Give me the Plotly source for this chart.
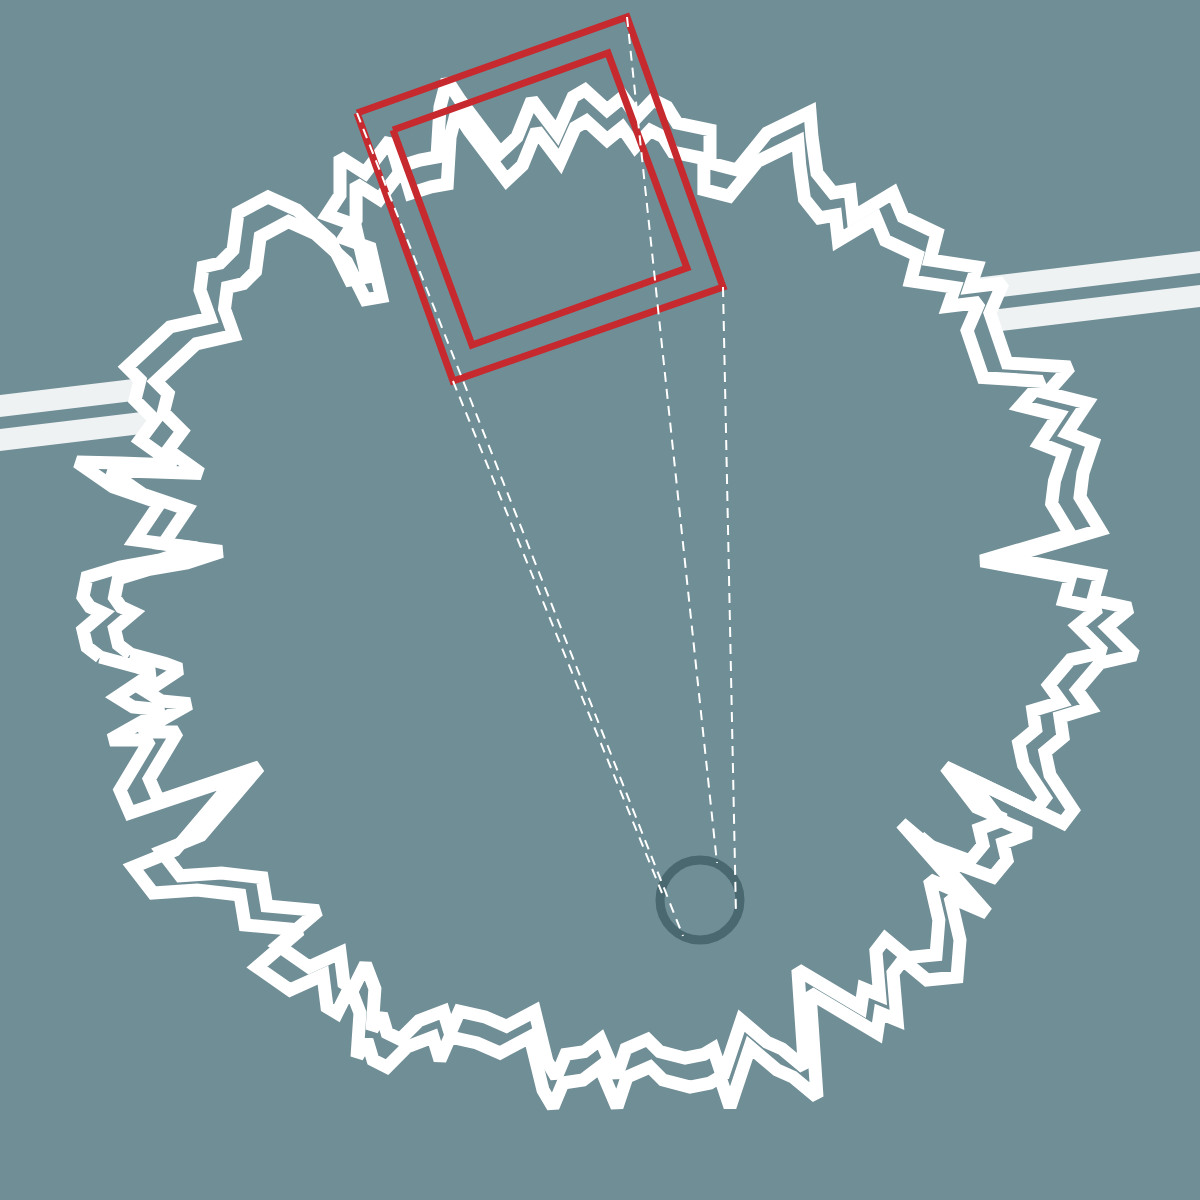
import plotly.graph_objects as go

# ---------------- data ----------------
# outer jagged ring (pixel coordinates, y downward)
ring_pts = [
    (100, 657), (87, 647), (83, 630), (103, 613), (90, 607), (83, 597), (87, 577), (120, 567), (160, 560),
    (197, 548), (135, 540), (160, 503), (113, 487), (77, 462), (120, 463), (175, 465), (140, 440), (155, 420),
    (135, 400), (140, 380), (127, 367), (150, 345), (170, 327), (210, 318), (200, 290), (203, 267), (220, 263),
    (233, 250), (238, 213), (268, 197), (297, 210), (330, 240), (350, 280), (367, 277), (355, 225), (327, 215),
    (340, 195), (340, 157), (365, 173), (390, 140), (398, 167), (420, 160), (437, 157), (440, 107), (447, 80),
    (460, 100), (500, 153), (517, 137), (532, 100), (557, 133), (573, 97), (585, 90), (607, 110), (623, 97),
    (637, 117), (653, 100), (667, 107), (677, 123), (710, 130), (710, 163), (737, 170), (767, 133), (810, 112),
    (812, 137), (817, 173), (833, 193), (850, 190), (853, 217), (893, 193), (903, 217), (937, 233), (930, 260),
    (977, 267), (970, 287), (1003, 283), (990, 313), (1007, 363), (1070, 367), (1047, 393), (1087, 403),
    (1067, 433), (1093, 443), (1083, 473), (1080, 497), (1100, 530), (1005, 558), (1100, 575), (1093, 600),
    (1130, 608), (1107, 627), (1135, 655), (1100, 663), (1077, 690), (1090, 708), (1060, 717), (1063, 737),
    (1045, 752), (1050, 775), (1073, 810), (1063, 823), (967, 777), (1000, 820), (1030, 833), (1003, 843),
    (1007, 860), (993, 877), (973, 870), (947, 860), (920, 837), (987, 913), (950, 897), (960, 940),
    (957, 977), (927, 980), (903, 960), (893, 973), (897, 1020), (880, 1013), (877, 1033), (810, 993),
    (817, 1097), (793, 1077), (777, 1070), (750, 1047), (730, 1107), (720, 1077), (710, 1083), (690, 1087),
    (663, 1080), (650, 1067), (627, 1077), (617, 1107), (600, 1067), (583, 1080), (563, 1083), (553, 1107),
    (543, 1090), (530, 1037), (500, 1053), (477, 1043), (450, 1037), (440, 1060), (433, 1037), (407, 1047),
    (387, 1067), (373, 1060), (367, 1040), (357, 1057), (360, 1013), (350, 987), (337, 1013), (327, 1007),
    (323, 975), (290, 990), (257, 967), (300, 930), (245, 925), (240, 895), (197, 890), (153, 893),
    (133, 867), (175, 850), (237, 777), (130, 813), (120, 790), (150, 740), (110, 740), (163, 710),
    (133, 707), (117, 697), (153, 673), (137, 667),
]
ring_x = [p[0] for p in ring_pts]
ring_y = [p[1] for p in ring_pts]

# second ring = scaled copy of the first
ring2_scale = 0.94
ring2_center = (608, 607)

# rotated squares (corners)
sq_outer_x = [357, 627, 723, 453]
sq_outer_y = [113, 17, 287, 381]
sq_inner_x = [393, 608, 687, 472]
sq_inner_y = [130, 53, 268, 345]

# dashed guide lines: start (square corner) -> end (on small circle)
guide_x0 = [627, 723, 357, 453]
guide_y0 = [17, 287, 113, 381]
guide_x1 = [717, 736, 683, 662]
guide_y1 = [863, 915, 936, 893]

# small circle
circle_cx, circle_cy, circle_r = 700, 900, 40

# bands (left/right of the ring): y at x=0 and x=1200
band_y_left = [406, 440]
band_y_right = [262, 296]

# ---------------- styles ----------------
BG = "#708e96"
WHITE = "#ffffff"
RED = "#c62a2e"
BAND = "#eef2f3"
DARK = "#4a6870"

fig = go.Figure()

# bands across the full width (ring interior covers the middle)
for yl, yr in zip(band_y_left, band_y_right):
    slope = (yr - yl) / 1200.0
    fig.add_trace(go.Scatter(x=[-30, 1230], y=[yl - slope * 30, yr + slope * 30], mode="lines",
                             line=dict(color=BAND, width=22), hoverinfo="skip", showlegend=False))

cx, cy = ring2_center
r2x = [cx + ring2_scale * (x - cx) for x in ring_x]
r2y = [cy + ring2_scale * (y - cy) for y in ring_y]

# ring interior covering the bands
fig.add_trace(go.Scatter(x=ring_x + [ring_x[0]], y=ring_y + [ring_y[0]], mode="lines", fill="toself",
                         fillcolor=BG, line=dict(color="rgba(0,0,0,0)", width=0),
                         hoverinfo="skip", showlegend=False))

# ring lines
for xs, ys in [(r2x, r2y), (ring_x, ring_y)]:
    fig.add_trace(go.Scatter(x=xs + [xs[0]], y=ys + [ys[0]], mode="lines",
                             line=dict(color=WHITE, width=13), hoverinfo="skip", showlegend=False))

# small circle
fig.add_shape(type="circle", x0=circle_cx - circle_r, x1=circle_cx + circle_r,
              y0=circle_cy - circle_r, y1=circle_cy + circle_r, line=dict(color=DARK, width=9),
              layer="above")

# squares
for xs, ys in [(sq_outer_x, sq_outer_y), (sq_inner_x, sq_inner_y)]:
    fig.add_trace(go.Scatter(x=xs + [xs[0]], y=ys + [ys[0]], mode="lines",
                             line=dict(color=RED, width=7), hoverinfo="skip", showlegend=False))

# dashed guides (drawn as shapes so they sit above the circle)
for x0, y0, x1, y1 in zip(guide_x0, guide_y0, guide_x1, guide_y1):
    fig.add_shape(type="line", x0=x0, y0=y0, x1=x1, y1=y1, layer="above",
                  line=dict(color=WHITE, width=2, dash="10px,7px"))

fig.update_layout(width=1200, height=1200, margin=dict(l=0, r=0, t=0, b=0),
                  paper_bgcolor=BG, plot_bgcolor=BG, showlegend=False)
fig.update_xaxes(range=[0, 1200], visible=False, showgrid=False, zeroline=False)
fig.update_yaxes(range=[1200, 0], visible=False, showgrid=False, zeroline=False)

fig.write_html("out.html", config={"displayModeBar": False},
               post_script="document.body.style.margin='0';document.body.style.overflow='hidden';")
